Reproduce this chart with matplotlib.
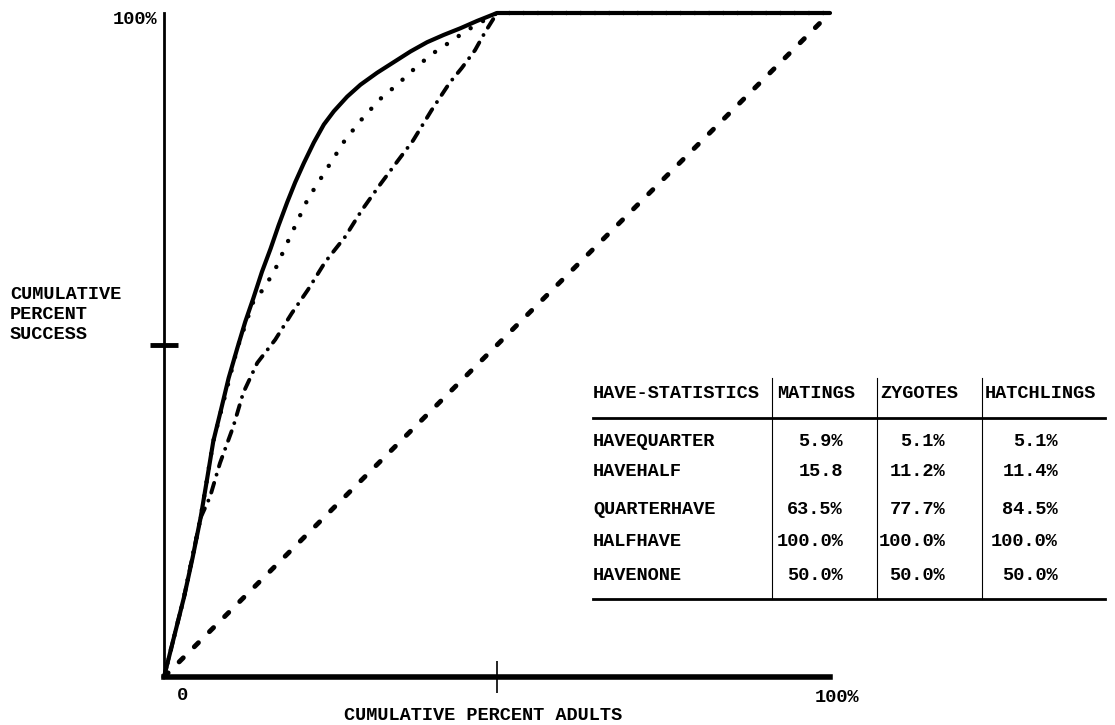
import matplotlib
matplotlib.use("Agg")
import matplotlib.pyplot as plt
from matplotlib.lines import Line2D

# cumulative percent adults (x) vs cumulative percent success (y)
solid_x = [0, 1, 2, 3, 4.3, 5.5, 6.5, 7.4, 8.5, 9.7, 11, 12.2, 13.4, 14.7, 16, 17.2, 18.5,
           19.7, 21, 22.5, 24, 25.5, 27.5, 29.5, 32, 34.5, 37, 39.5, 42, 44.5, 47, 50, 100]
solid_y = [0, 4, 8, 12, 18, 24, 30, 35.5, 40, 45, 49.5, 53.5, 57, 61, 64.5, 68, 71.5,
           74.5, 77.4, 80.5, 83.2, 85.2, 87.4, 89.2, 91, 92.6, 94.2, 95.6, 96.7, 97.7, 98.8, 100, 100]

dotted_x = [0, 1, 3, 5.5, 7.4, 9, 11, 13.4, 15.2, 17, 18, 19.4, 21.6, 24.5, 27.2, 29.7,
            32.4, 35, 37.7, 40.2, 42.9, 45.5, 50, 100]
dotted_y = [0, 4, 12, 24, 35.5, 41.7, 49.5, 56.5, 58.8, 62, 64.3, 67.3, 72, 76.6, 80.9, 84,
            87, 89.2, 91.7, 93.8, 95.6, 97.4, 100, 100]

dashdot_x = [0, 1, 3, 5.5, 6.9, 8.4, 10.4, 11.9, 14, 16.7, 19.2, 21.6, 24.2, 27.2, 29.7,
             32.4, 35, 37.4, 40.2, 42.9, 44.7, 46.7, 48.2, 50, 100]
dashdot_y = [0, 4, 12, 24, 27.1, 32.2, 37.7, 42.8, 47.3, 50.8, 54.8, 58.3, 62.5, 66.3, 70.3,
             74.1, 77.6, 80.8, 85.4, 89.5, 91.7, 94.4, 97.1, 100, 100]

dashed_x = [0, 100]
dashed_y = [0, 100]

# table
table_header = ["HAVE-STATISTICS", "MATINGS", "ZYGOTES", "HATCHLINGS"]
row_names = ["HAVEQUARTER", "HAVEHALF", "QUARTERHAVE", "HALFHAVE", "HAVENONE"]
matings = ["5.9%", "15.8", "63.5%", "100.0%", "50.0%"]
zygotes = ["5.1%", "11.2%", "77.7%", "100.0%", "50.0%"]
hatchlings = ["5.1%", "11.4%", "84.5%", "100.0%", "50.0%"]

W, H = 1115, 725
FONT = dict(family="Liberation Mono", fontweight="bold", fontsize=13.4, color="black")


def fx(px):
    return px / W


def fy(py):
    return 1 - py / H


fig = plt.figure(figsize=(W / 100, H / 100), dpi=100)
ax = fig.add_axes([fx(164), fy(677), (830 - 164) / W, (677 - 13) / H])
ax.set_xlim(0, 100)
ax.set_ylim(0, 100)

ax.plot(solid_x, solid_y, color="black", lw=3, solid_capstyle="round",
        solid_joinstyle="round", clip_on=False)
ax.plot(dotted_x, dotted_y, color="black", lw=3.2, dashes=(0.01, 3.2),
        dash_capstyle="round", clip_on=False)
ax.plot(dashdot_x, dashdot_y, color="black", lw=2.8, dashes=(2.6, 2.2, 0.01, 2.2),
        dash_capstyle="round", clip_on=False)
ax.plot(dashed_x, dashed_y, color="black", lw=3.5, dashes=(1.2, 3.2),
        dash_capstyle="round", clip_on=False)

for s in ["top", "right"]:
    ax.spines[s].set_visible(False)
ax.spines["left"].set_linewidth(2)
ax.spines["bottom"].set_linewidth(4)
ax.spines["bottom"].set_zorder(5)

ax.set_xticks([50])
ax.set_yticks([50])
ax.set_xticklabels([])
ax.set_yticklabels([])
ax.tick_params(axis="x", direction="inout", length=23, width=1.2)
ax.tick_params(axis="y", direction="inout", length=20, width=3.5)

# axis labels
fig.text(fx(157), fy(19), "100%", ha="right", va="center", **FONT)
fig.text(fx(182), fy(695), "0", ha="center", va="center", **FONT)
fig.text(fx(837), fy(697), "100%", ha="center", va="center", **FONT)
fig.text(fx(483), fy(715), "CUMULATIVE PERCENT ADULTS", ha="center", va="center", **FONT)
fig.text(fx(10), fy(286), "CUMULATIVE\nPERCENT\nSUCCESS", ha="left", va="top",
         linespacing=1.25, **FONT)

# table
header_y = 393
row_y = [441, 471, 509, 542, 576]
fig.text(fx(593), fy(header_y), table_header[0], ha="left", va="center", **FONT)
fig.text(fx(777), fy(header_y), table_header[1], ha="left", va="center", **FONT)
fig.text(fx(880), fy(header_y), table_header[2], ha="left", va="center", **FONT)
fig.text(fx(985), fy(header_y), table_header[3], ha="left", va="center", **FONT)

for i, y in enumerate(row_y):
    fig.text(fx(593), fy(y), row_names[i], ha="left", va="center", **FONT)
    fig.text(fx(843), fy(y), matings[i], ha="right", va="center", **FONT)
    fig.text(fx(945), fy(y), zygotes[i], ha="right", va="center", **FONT)
    fig.text(fx(1058), fy(y), hatchlings[i], ha="right", va="center", **FONT)

for y in [418, 599]:
    fig.add_artist(Line2D([fx(593), fx(1105)], [fy(y), fy(y)], color="black", lw=2,
                          transform=fig.transFigure))
for x in [772, 877, 982]:
    fig.add_artist(Line2D([fx(x), fx(x)], [fy(378), fy(599)], color="black", lw=0.8,
                          transform=fig.transFigure))

fig.savefig("out.png", dpi=100)
